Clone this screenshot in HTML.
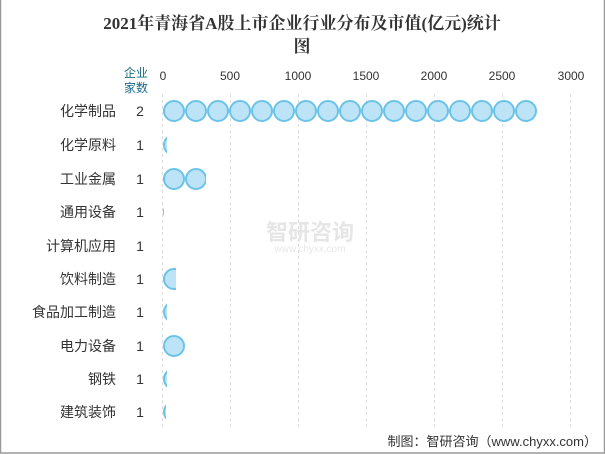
<!DOCTYPE html>
<html><head><meta charset="utf-8"><style>
body{margin:0;background:#fff}
svg{display:block}
</style></head><body>
<svg width="605" height="454" xmlns="http://www.w3.org/2000/svg" font-family="Liberation Sans, Noto Sans CJK SC, sans-serif">
<rect x="0.5" y="-1" width="604" height="454" fill="#fff" stroke="#999" stroke-width="1.5"/>
<g style="font-family:'Liberation Serif','Noto Serif CJK SC',serif" font-size="17" font-weight="bold" fill="#333" text-anchor="middle">
<text x="302" y="29">2021年青海省A股上市企业行业分布及市值(亿元)统计</text>
<text x="302" y="52">图</text>
</g>
<text x="136" y="77" text-anchor="middle" font-size="12" fill="#1a6a8a">企业</text>
<text x="136" y="92" text-anchor="middle" font-size="12" fill="#1a6a8a">家数</text>
<g font-size="12" fill="#333" text-anchor="middle">
<text x="163" y="80">0</text><text x="230" y="80">500</text><text x="298" y="80">1000</text><text x="366" y="80">1500</text><text x="434" y="80">2000</text><text x="502" y="80">2500</text><text x="571" y="80">3000</text>
</g>
<g stroke="#ddd" stroke-dasharray="3,3">
<line x1="162.5" y1="94" x2="162.5" y2="428"/><line x1="230.5" y1="94" x2="230.5" y2="428"/><line x1="298.5" y1="94" x2="298.5" y2="428"/><line x1="366.5" y1="94" x2="366.5" y2="428"/><line x1="434.5" y1="94" x2="434.5" y2="428"/><line x1="502.5" y1="94" x2="502.5" y2="428"/><line x1="570.5" y1="94" x2="570.5" y2="428"/>
</g>
<text x="310" y="240" text-anchor="middle" font-size="22" fill="#e6e6e6" font-weight="bold">智研咨询</text>
<text x="310" y="252" font-size="10" fill="#e8e8e8" text-anchor="middle">www.chyxx.com</text>
<g font-size="14" fill="#333" text-anchor="end">
<text x="116" y="116">化学制品</text><text x="116" y="150">化学原料</text><text x="116" y="184">工业金属</text><text x="116" y="217">通用设备</text><text x="116" y="251">计算机应用</text><text x="116" y="284">饮料制造</text><text x="116" y="317">食品加工制造</text><text x="116" y="351">电力设备</text><text x="116" y="384">钢铁</text><text x="116" y="417">建筑装饰</text>
</g>
<g font-size="14" fill="#333" text-anchor="middle">
<text x="140" y="116">2</text><text x="140" y="150">1</text><text x="140" y="184">1</text><text x="140" y="217">1</text><text x="140" y="251">1</text><text x="140" y="284">1</text><text x="140" y="317">1</text><text x="140" y="351">1</text><text x="140" y="384">1</text><text x="140" y="417">1</text>
</g>
<defs>
<g id="r17"><circle cx="174" cy="0" r="10"/><circle cx="196" cy="0" r="10"/><circle cx="218" cy="0" r="10"/><circle cx="240" cy="0" r="10"/><circle cx="262" cy="0" r="10"/><circle cx="284" cy="0" r="10"/><circle cx="306" cy="0" r="10"/><circle cx="328" cy="0" r="10"/><circle cx="350" cy="0" r="10"/><circle cx="372" cy="0" r="10"/><circle cx="394" cy="0" r="10"/><circle cx="416" cy="0" r="10"/><circle cx="438" cy="0" r="10"/><circle cx="460" cy="0" r="10"/><circle cx="482" cy="0" r="10"/><circle cx="504" cy="0" r="10"/><circle cx="526" cy="0" r="10"/></g>
<clipPath id="c0"><rect x="162" y="-20" width="375" height="40"/></clipPath>
<clipPath id="c1"><rect x="162" y="-20" width="5" height="40"/></clipPath>
<clipPath id="c2"><rect x="162" y="-20" width="44" height="40"/></clipPath>
<clipPath id="c3"><rect x="162" y="-20" width="2" height="40"/></clipPath>
<clipPath id="c4"><rect x="162" y="-20" width="1" height="40"/></clipPath>
<clipPath id="c5"><rect x="162" y="-20" width="14" height="40"/></clipPath>
<clipPath id="c7"><rect x="162" y="-20" width="23" height="40"/></clipPath>
<clipPath id="c8"><rect x="162" y="-20" width="4" height="40"/></clipPath>
</defs>
<g fill="#bde3f7" stroke="#6cc3e8" stroke-width="2">
<use href="#r17" transform="translate(0,111)" clip-path="url(#c0)"/>
<use href="#r17" transform="translate(0,145)" clip-path="url(#c1)"/>
<use href="#r17" transform="translate(0,179)" clip-path="url(#c2)"/>
<use href="#r17" transform="translate(0,212)" clip-path="url(#c3)"/>
<use href="#r17" transform="translate(0,246)" clip-path="url(#c4)"/>
<use href="#r17" transform="translate(0,279)" clip-path="url(#c5)"/>
<use href="#r17" transform="translate(0,312)" clip-path="url(#c1)"/>
<use href="#r17" transform="translate(0,346)" clip-path="url(#c7)"/>
<use href="#r17" transform="translate(0,379)" clip-path="url(#c1)"/>
<use href="#r17" transform="translate(0,412)" clip-path="url(#c8)"/>
</g>
<text x="597" y="446" text-anchor="end" font-size="13" fill="#333">制图：智研咨询（www.chyxx.com）</text>
</svg>
</body></html>
